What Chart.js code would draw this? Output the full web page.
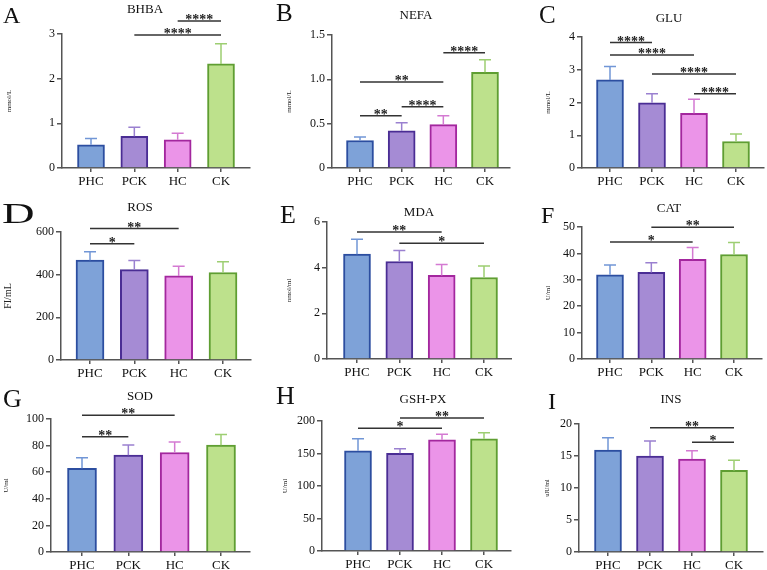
<!DOCTYPE html>
<html>
<head>
<meta charset="utf-8">
<script src="https://cdn.jsdelivr.net/npm/chart.js@4.4.0/dist/chart.umd.min.js"></script>
<style>
  html, body { margin: 0; padding: 0; background: #fff; }
  #wrap { position: relative; width: 767px; height: 570px; overflow: hidden; }
  #wrap canvas { position: absolute; }
</style>
</head>
<body>
<div id="wrap"></div>
<script>
// groups
const categories = ['PHC', 'PCK', 'HC', 'CK'];

// A - BHBA (mmol/L)
const bhbaMean = [0.52, 0.71, 0.63, 2.33];
const bhbaSd = [0.14, 0.20, 0.15, 0.45];
const bhbaTicks = [0, 1, 2, 3];
const bhbaTickLabels = ['0', '1', '2', '3'];
const bhbaSig = [[2, 3, '****'], [1, 3, '****']];

// B - NEFA (mmol/L)
const nefaMean = [0.31, 0.42, 0.49, 1.08];
const nefaSd = [0.04, 0.09, 0.10, 0.14];
const nefaTicks = [0, 0.5, 1.0, 1.5];
const nefaTickLabels = ['0', '0.5', '1.0', '1.5'];
const nefaSig = [[0, 1, '**'], [1, 2, '****'], [0, 2, '**'], [2, 3, '****']];

// C - GLU (mmol/L)
const gluMean = [2.69, 1.99, 1.67, 0.81];
const gluSd = [0.41, 0.28, 0.43, 0.23];
const gluTicks = [0, 1, 2, 3, 4];
const gluTickLabels = ['0', '1', '2', '3', '4'];
const gluSig = [[0, 1, '****'], [0, 2, '****'], [1, 3, '****'], [2, 3, '****']];

// D - ROS (FI/mL)
const rosMean = [468, 424, 394, 410];
const rosSd = [40, 42, 46, 50];
const rosTicks = [0, 200, 400, 600];
const rosTickLabels = ['0', '200', '400', '600'];
const rosSig = [[0, 1, '*'], [0, 2, '**']];

// E - MDA (nmol/ml)
const mdaMean = [4.59, 4.27, 3.66, 3.57];
const mdaSd = [0.66, 0.48, 0.48, 0.50];
const mdaTicks = [0, 2, 4, 6];
const mdaTickLabels = ['0', '2', '4', '6'];
const mdaSig = [[0, 2, '**'], [1, 3, '*']];

// F - CAT (U/ml)
const catMean = [31.9, 32.8, 37.8, 39.6];
const catSd = [3.7, 3.7, 4.4, 4.5];
const catTicks = [0, 10, 20, 30, 40, 50];
const catTickLabels = ['0', '10', '20', '30', '40', '50'];
const catSig = [[0, 2, '*'], [1, 3, '**']];

// G - SOD (U/ml)
const sodMean = [62.9, 72.8, 74.8, 80.3];
const sodSd = [7.9, 7.7, 8.0, 8.0];
const sodTicks = [0, 20, 40, 60, 80, 100];
const sodTickLabels = ['0', '20', '40', '60', '80', '100'];
const sodSig = [[0, 1, '**'], [0, 2, '**']];

// H - GSH-PX (U/ml)
const gshMean = [154.2, 150.2, 171.2, 172.7];
const gshSd = [18.5, 7.1, 8.3, 9.3];
const gshTicks = [0, 50, 100, 150, 200];
const gshTickLabels = ['0', '50', '100', '150', '200'];
const gshSig = [[0, 2, '*'], [1, 3, '**']];

// I - INS (uIU/ml)
const insMean = [15.93, 14.99, 14.52, 12.75];
const insSd = [1.93, 2.35, 1.30, 1.57];
const insTicks = [0, 5, 10, 15, 20];
const insTickLabels = ['0', '5', '10', '15', '20'];
const insSig = [[1, 3, '**'], [2, 3, '*']];

// colours
const fills = ['#7ea2d8', '#a58bd4', '#eb94e8', '#bde18c'];
const borders = ['#2c4ea0', '#4a2d94', '#a3279e', '#5f9e32'];
const whiskers = ['#7196d6', '#9a80d0', '#d47ad2', '#9dce72'];
const axisColor = '#555';
const serif = '"Liberation Serif", "Times New Roman", serif';

// panel placement (page pixels) + bracket heights (axis units)
const panels = [
  { letter: 'A', title: 'BHBA', unit: 'mmol/L', mean: bhbaMean, sd: bhbaSd, ticks: bhbaTicks, tickLabels: bhbaTickLabels, sig: bhbaSig,
    box: { ox: 0, oy: 0, axisL: 62, axisR: 250, yTop: 34, yZero: 168, c0: 91, c3: 221, barW: 27,
      titleX: 145, titleY: 10, letterX: 3, letterY: 23, letterSize: 24, unitX: 9, unitSize: 7, sigY: [3.29, 2.98] } },
  { letter: 'B', title: 'NEFA', unit: 'mmol/L', mean: nefaMean, sd: nefaSd, ticks: nefaTicks, tickLabels: nefaTickLabels, sig: nefaSig,
    box: { ox: 256, oy: 0, axisL: 332, axisR: 510, yTop: 35, yZero: 168, c0: 360, c3: 485, barW: 27,
      titleX: 160, titleY: 16, letterX: 20, letterY: 21, letterSize: 25, unitX: 33, unitSize: 7, sigY: [0.59, 0.69, 0.97, 1.30] } },
  { letter: 'C', title: 'GLU', unit: 'mmol/L', mean: gluMean, sd: gluSd, ticks: gluTicks, tickLabels: gluTickLabels, sig: gluSig,
    box: { ox: 511, oy: 0, axisL: 582, axisR: 764, yTop: 37, yZero: 168, c0: 610, c3: 736, barW: 27,
      titleX: 158, titleY: 19, letterX: 28, letterY: 23, letterSize: 25, unitX: 37, unitSize: 7, sigY: [3.83, 3.45, 2.87, 2.27] } },
  { letter: 'D', title: 'ROS', unit: 'FI/mL', mean: rosMean, sd: rosSd, ticks: rosTicks, tickLabels: rosTickLabels, sig: rosSig,
    box: { ox: 0, oy: 190, axisL: 61, axisR: 251, yTop: 232, yZero: 360, c0: 90, c3: 223, barW: 28,
      titleX: 140, titleY: 18, letterX: 2, letterY: 33, letterSize: 30, letterScaleX: 1.5, unitX: 8, unitSize: 10, sigY: [545, 616] } },
  { letter: 'E', title: 'MDA', unit: 'nmol/ml', mean: mdaMean, sd: mdaSd, ticks: mdaTicks, tickLabels: mdaTickLabels, sig: mdaSig,
    box: { ox: 256, oy: 190, axisL: 327, axisR: 512, yTop: 222, yZero: 359, c0: 357, c3: 484, barW: 27,
      titleX: 163, titleY: 23, letterX: 24, letterY: 33, letterSize: 26, unitX: 33, unitSize: 7, sigY: [5.56, 5.07] } },
  { letter: 'F', title: 'CAT', unit: 'U/ml', mean: catMean, sd: catSd, ticks: catTicks, tickLabels: catTickLabels, sig: catSig,
    box: { ox: 511, oy: 190, axisL: 582, axisR: 762, yTop: 227, yZero: 359, c0: 610, c3: 734, barW: 27,
      titleX: 158, titleY: 19, letterX: 30, letterY: 33, letterSize: 24, unitX: 37, unitSize: 7, sigY: [44.3, 49.9] } },
  { letter: 'G', title: 'SOD', unit: 'U/ml', mean: sodMean, sd: sodSd, ticks: sodTicks, tickLabels: sodTickLabels, sig: sodSig,
    box: { ox: 0, oy: 380, axisL: 51, axisR: 250, yTop: 419, yZero: 552, c0: 82, c3: 221, barW: 29,
      titleX: 140, titleY: 17, letterX: 3, letterY: 27, letterSize: 26, unitX: 6, unitSize: 7, sigY: [86.6, 102.8] } },
  { letter: 'H', title: 'GSH-PX', unit: 'U/ml', mean: gshMean, sd: gshSd, ticks: gshTicks, tickLabels: gshTickLabels, sig: gshSig,
    box: { ox: 256, oy: 380, axisL: 322, axisR: 511, yTop: 421, yZero: 551, c0: 358, c3: 484, barW: 27,
      titleX: 167, titleY: 20, letterX: 20, letterY: 24, letterSize: 26, unitX: 29, unitSize: 7, sigY: [188.8, 204.7] } },
  { letter: 'I', title: 'INS', unit: 'uIU/ml', mean: insMean, sd: insSd, ticks: insTicks, tickLabels: insTickLabels, sig: insSig,
    box: { ox: 511, oy: 380, axisL: 579, axisR: 763, yTop: 424, yZero: 552, c0: 608, c3: 734, barW: 27,
      titleX: 160, titleY: 20, letterX: 37, letterY: 29, letterSize: 24, unitX: 36, unitSize: 6, sigY: [19.42, 17.14] } }
];

// error bars, significance lines, panel title and letter
function decor(p) {
  const b = p.box;
  return {
    id: 'decor' + p.letter,
    afterDatasetsDraw(chart) {
      const ctx = chart.ctx, xs = chart.scales.x, ys = chart.scales.y;
      ctx.save();
      ctx.lineWidth = 1.5;
      p.mean.forEach((m, i) => {
        const x = xs.getPixelForValue(i);
        const y0 = ys.getPixelForValue(m);
        const y1 = ys.getPixelForValue(m + p.sd[i]);
        ctx.strokeStyle = whiskers[i];
        ctx.beginPath();
        ctx.moveTo(x, y0); ctx.lineTo(x, y1);
        ctx.moveTo(x - 6, y1); ctx.lineTo(x + 6, y1);
        ctx.stroke();
      });
      ctx.strokeStyle = '#333';
      ctx.fillStyle = '#222';
      ctx.font = 'bold 14px ' + serif;
      ctx.textAlign = 'center';
      ctx.textBaseline = 'alphabetic';
      p.sig.forEach((s, k) => {
        const x1 = xs.getPixelForValue(s[0]);
        const x2 = xs.getPixelForValue(s[1]);
        const y = ys.getPixelForValue(b.sigY[k]);
        ctx.beginPath();
        ctx.moveTo(x1, y); ctx.lineTo(x2, y);
        ctx.stroke();
        ctx.fillText(s[2], (x1 + x2) / 2, y + 3);
      });
      ctx.fillStyle = '#111';
      ctx.font = '13px ' + serif;
      ctx.textBaseline = 'middle';
      ctx.fillText(p.title, b.titleX, b.titleY);
      ctx.textAlign = 'left';
      ctx.textBaseline = 'alphabetic';
      ctx.font = b.letterSize + 'px ' + serif;
      ctx.translate(b.letterX, b.letterY);
      ctx.scale(b.letterScaleX || 1, 1);
      ctx.fillText(p.letter, 0, 0);
      ctx.restore();
    }
  };
}

const wrap = document.getElementById('wrap');

panels.forEach(p => {
  const b = p.box;
  const canvas = document.createElement('canvas');
  canvas.width = 256;
  canvas.height = 190;
  canvas.style.left = b.ox + 'px';
  canvas.style.top = b.oy + 'px';
  wrap.appendChild(canvas);

  const step = (b.c3 - b.c0) / 3;
  const xMin = -(b.c0 - b.axisL) / step;
  const xMax = 3 + (b.axisR - b.c3) / step;

  new Chart(canvas.getContext('2d'), {
    type: 'bar',
    data: {
      datasets: [{
        data: categories.map((c, i) => ({ x: i, y: p.mean[i] })),
        backgroundColor: fills,
        borderColor: borders,
        borderWidth: 2,
        barThickness: b.barW
      }]
    },
    options: {
      responsive: false,
      animation: false,
      devicePixelRatio: 1,
      layout: { padding: { top: b.yTop - b.oy, right: b.ox + 256 - b.axisR, left: 0, bottom: 0 } },
      plugins: { legend: { display: false }, tooltip: { enabled: false } },
      scales: {
        x: {
          type: 'linear',
          offset: false,
          min: xMin,
          max: xMax,
          afterBuildTicks: s => { s.ticks = categories.map((c, i) => ({ value: i })); },
          afterFit: s => { s.height = b.oy + 190 - b.yZero; },
          ticks: {
            callback: (v, i) => categories[i],
            autoSkip: false, maxRotation: 0, padding: 2,
            color: '#111', font: { family: serif, size: 13 }
          },
          grid: { offset: false, drawOnChartArea: false, tickLength: 4, color: axisColor, lineWidth: 1.5 },
          border: { color: axisColor, width: 1.5 }
        },
        y: {
          min: 0,
          max: p.ticks[p.ticks.length - 1],
          afterBuildTicks: s => { s.ticks = p.ticks.map(v => ({ value: v })); },
          afterFit: s => { s.width = b.axisL - b.ox; },
          ticks: {
            callback: (v, i) => p.tickLabels[i],
            autoSkip: false, padding: 2,
            color: '#111', font: { family: serif, size: 12 }
          },
          grid: { drawOnChartArea: false, tickLength: 5, color: axisColor, lineWidth: 1.5 },
          border: { color: axisColor, width: 1.5 },
          title: {
            display: true, text: p.unit, color: '#222',
            font: { family: serif, size: b.unitSize },
            padding: { top: b.unitX - b.unitSize * 0.6, bottom: 0 }
          }
        }
      }
    },
    plugins: [decor(p)]
  });
});
</script>
</body>
</html>
